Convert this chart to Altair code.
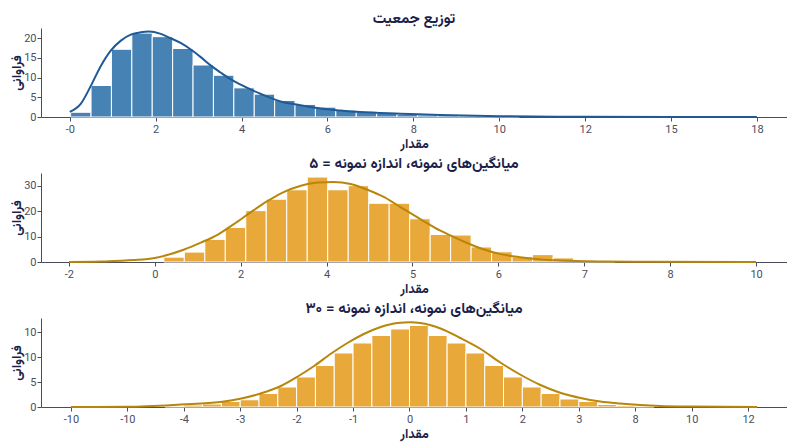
import json
import pandas as pd
import altair as alt

# --- population distribution (skewed) ---
pop_bin_start = 0.02
pop_bin_width = 0.475
pop_counts = [1.2, 8.0, 17.2, 21.3, 20.4, 17.4, 13.2, 10.6, 7.4, 5.8, 4.2, 3.2,
              2.5, 1.75, 1.3, 0.9, 0.7, 0.5, 0.35, 0.25, 0.15, 0.1]
pop_curve_x = [0, 0.26, 0.49, 0.72, 0.95, 1.19, 1.42, 1.65, 1.84, 2.12, 2.35, 2.58,
               2.81, 3.05, 3.28, 3.51, 3.74, 3.98, 4.21, 4.44, 4.91, 5.37, 5.84,
               6.3, 6.77, 7.7, 8.63, 10, 12, 14, 16]
pop_curve_y = [1.3, 3.4, 7.9, 12.9, 16.8, 19.4, 20.9, 21.5, 21.7, 21.1, 20.0, 18.8,
               17.2, 15.2, 13.1, 11.3, 9.6, 8.2, 7.0, 5.9, 3.95, 3.0, 2.15,
               1.65, 1.25, 0.85, 0.5, 0.2, 0.06, 0.02, 0.0]
pop_ticks = [0, 2, 4, 6, 8, 10, 12, 14, 16]
pop_tick_labels = ["-0", "2", "4", "6", "8", "10", "12", "15", "18"]
pop_yticks = [0, 5, 10, 15, 20]
pop_ylabels = ["0", "5", "10", "15", "20"]

# --- sample means, n = 5 ---
n5_bin_start = 0.21
n5_bin_width = 0.477
n5_counts = [1.9, 3.9, 8.9, 13.6, 20.2, 24.7, 28.4, 33.4, 28.4, 30.0, 23.1, 23.1,
             17.0, 10.8, 10.6, 5.9, 4.0, 2.0, 2.9, 1.6, 0.5, 0.2]
n5_curve_x = [-2, -1.26, -0.49, 0, 0.67, 1.07, 1.46, 1.84, 2.23, 2.63, 3.0, 3.4,
              3.8, 4.16, 4.56, 4.95, 5.33, 5.72, 6.19, 6.65, 7.12, 7.58, 8.05,
              8.5, 9.0, 9.44, 10.4, 11.5, 14]
n5_curve_y = [0.02, 0.2, 0.75, 1.6, 4.8, 7.6, 10.7, 14.9, 19.5, 24.0, 27.5, 30.0,
              31.3, 31.5, 30.7, 28.4, 25.6, 21.6, 16.8, 12.3, 8.6, 5.4, 3.1,
              1.9, 1.0, 0.6, 0.2, 0.05, 0.0]
n5_ticks = [-2, 0, 2, 4, 6, 8, 10, 12, 14]
n5_tick_labels = ["-2", "0", "2", "4", "5", "6", "7", "8", "10"]
n5_yticks = [0, 10, 20, 30]
n5_ylabels = ["0", "10", "20", "30"]

# --- sample means, n = 30 ---
n30_bin_start = -13 / 3
n30_bin_width = 1 / 3
n30_counts = [0.15, 0.4, 0.6, 1.1, 1.45, 2.7, 4.0, 6.0, 8.3, 10.8, 12.8, 14.3, 15.6,
              16.3, 14.3, 12.8, 10.8, 8.3, 6.0, 4.0, 2.7, 1.6, 1.1, 0.5, 0.3, 0.15]
n30_curve_x = [-6, -5, -4.05, -3.35, -3.0, -2.64, -2.28, -1.98, -1.69, -1.4, -1.1,
               -0.81, -0.51, -0.21, 0.02, 0.19, 0.55, 0.9, 1.26, 1.61, 1.96, 2.32,
               2.67, 3.03, 3.38, 3.73, 4.09, 4.44, 5.0, 6.16]
n30_curve_y = [0.0, 0.05, 0.5, 1.0, 1.65, 2.7, 4.2, 6.1, 8.2, 10.6, 12.8, 14.6, 16.0,
               16.8, 16.95, 16.8, 15.7, 13.8, 11.6, 8.9, 6.5, 4.4, 2.85, 1.8, 1.1,
               0.7, 0.4, 0.2, 0.08, 0.0]
n30_ticks = [-6, -5, -4, -3, -2, -1, 0, 1, 2, 3, 4, 5, 6]
n30_tick_labels = ["-10", "-10", "-4", "-3", "-2", "-1", "0", "1", "2", "3", "8", "10", "12"]
n30_yticks = [0, 5, 10, 15]
n30_ylabels = ["0", "5", "10", "10"]

FA_FONT = "Vazirmatn, 'DejaVu Sans', sans-serif"
NUM_FONT = "Roboto"
INK = "#1c1f4a"


def label_expr(values, labels):
    step = values[1] - values[0]
    return f"{json.dumps(labels)}[round((datum.value - ({values[0]})) / {step})]"


def panel(title, b0, bw, counts, cx, cy, ticks, tick_labels, xdom,
          ydom, yticks, ylabels, bar_color, line_color):
    bars = pd.DataFrame({
        "x0": [b0 + i * bw for i in range(len(counts))],
        "x1": [b0 + (i + 1) * bw for i in range(len(counts))],
        "count": counts,
    })
    curve = pd.DataFrame({"x": cx, "y": cy})

    xscale = alt.Scale(domain=xdom, nice=False, zero=False)
    yscale = alt.Scale(domain=ydom, nice=False)
    xaxis = alt.Axis(values=ticks, labelExpr=label_expr(ticks, tick_labels),
                     titlePadding=3)
    yaxis = alt.Axis(values=yticks, labelExpr=label_expr(yticks, ylabels),
                     labelPadding=1, titlePadding=0)

    b = alt.Chart(bars).mark_rect(color=bar_color, stroke="white", strokeWidth=1).encode(
        x=alt.X("x0:Q", title="مقدار", scale=xscale, axis=xaxis),
        x2="x1:Q",
        y=alt.Y("count:Q", title="فراوانی", scale=yscale, axis=yaxis),
        y2=alt.datum(0),
    )
    l = alt.Chart(curve).mark_line(color=line_color, strokeWidth=2,
                                   interpolate="monotone").encode(
        x=alt.X("x:Q", title="مقدار", scale=xscale, axis=xaxis),
        y=alt.Y("y:Q", title="فراوانی", scale=yscale, axis=yaxis),
    )
    return alt.layer(b, l).properties(
        width=746, height=89,
        title=alt.TitleParams(title, font=FA_FONT, fontSize=15, fontWeight="bold",
                              color=INK, offset=2),
    )


blue, blue_line = "#4682b4", "#1f5a96"
gold, gold_line = "#e8a83a", "#b8860b"

p1 = panel("توزیع جمعیت", pop_bin_start, pop_bin_width, pop_counts,
           pop_curve_x, pop_curve_y, pop_ticks, pop_tick_labels, [-0.67, 16.7],
           [0, 22.6], pop_yticks, pop_ylabels, blue, blue_line)
p2 = panel("میانگین‌های نمونه، اندازه نمونه = ۵", n5_bin_start, n5_bin_width, n5_counts,
           n5_curve_x, n5_curve_y, n5_ticks, n5_tick_labels, [-2.65, 14.72],
           [0, 35], n5_yticks, n5_ylabels, gold, gold_line)
p3 = panel("میانگین‌های نمونه، اندازه نمونه = ۳۰", n30_bin_start, n30_bin_width, n30_counts,
           n30_curve_x, n30_curve_y, n30_ticks, n30_tick_labels, [-6.53, 6.69],
           [0, 17.8], n30_yticks, n30_ylabels, gold, gold_line)

chart = alt.vconcat(p1, p2, p3, spacing=6).properties(
    padding={"left": 2, "right": 0, "top": 2, "bottom": 3}
).configure_view(stroke=None).configure_axis(
    grid=False,
    domainColor="#4a4d5e",
    tickColor="#4a4d5e",
    tickSize=4,
    labelColor="#4a4d5e",
    labelFont=NUM_FONT,
    labelFontSize=11,
    labelPadding=2,
    titleFont=FA_FONT,
    titleFontSize=13,
    titleFontWeight="bold",
    titleColor=INK,
)

chart.save("out.html", embed_options={"renderer": "svg", "actions": False})
